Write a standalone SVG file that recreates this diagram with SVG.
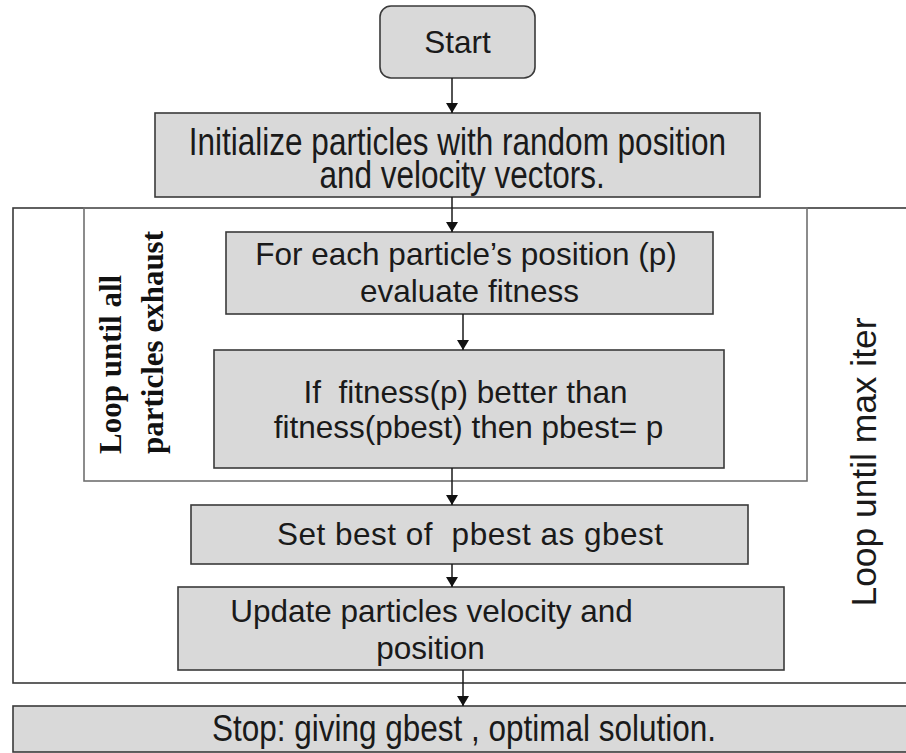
<svg xmlns="http://www.w3.org/2000/svg" width="906" height="753" viewBox="0 0 906 753">
<style>
.box{fill:#d9d9d9;stroke:#3a3a3a;stroke-width:1.6}
.frame{fill:none;stroke:#3a3a3a;stroke-width:1.6}
.inner{fill:none;stroke:#707070;stroke-width:1.6}
.t{font-family:"Liberation Sans",Arial,sans-serif;font-size:31.5px;fill:#1a1a1a;text-anchor:middle;white-space:pre}
.lbl{font-family:"Liberation Sans",Arial,sans-serif;font-size:35px;fill:#1a1a1a;text-anchor:middle}
.lbl2{font-family:"Liberation Serif","Times New Roman",serif;font-size:31px;font-weight:bold;fill:#111}
.c{stroke:#1a1a1a;stroke-width:1.5;fill:none;marker-end:url(#ah)}
</style>
<defs>
<marker id="ah" viewBox="0 0 10 12" refX="10" refY="6" markerWidth="10" markerHeight="12" markerUnits="userSpaceOnUse" orient="auto">
<path d="M0,0 L10,6 L0,12 Z" fill="#111"/>
</marker>
</defs>
<rect width="906" height="753" fill="#fff"/>

<g id="loop-outer">
<rect class="frame" x="13" y="208" width="900" height="475"/>
<text class="lbl" transform="rotate(-90 876 462)" x="876" y="462" textLength="289" lengthAdjust="spacingAndGlyphs">Loop until max iter</text>
</g>
<g id="loop-inner">
<rect class="inner" x="84" y="208" width="723" height="273"/>
<text class="lbl2" transform="rotate(-90 121 454)" x="121" y="454">Loop until all</text>
<text class="lbl2" transform="rotate(-90 163 454)" x="163" y="454">particles exhaust</text>
</g>

<g id="start">
<rect class="box" x="380" y="6" width="155" height="72" rx="11" ry="11"/>
<text class="t" x="457.5" y="53">Start</text>
</g>
<g id="init">
<rect class="box" x="155" y="113" width="605" height="84"/>
<text class="t" transform="translate(457.5 155) scale(1 1.25)" x="0" y="0">Initialize particles with random position</text>
<text class="t" transform="translate(462 188) scale(1 1.25)" x="0" y="0">and velocity vectors.</text>
</g>
<g id="evaluate">
<rect class="box" x="226" y="232" width="487" height="82"/>
<text class="t" x="466" y="265">For each particle’s position (p)</text>
<text class="t" x="469.5" y="302">evaluate fitness</text>
</g>
<g id="compare">
<rect class="box" x="214" y="350" width="510" height="118"/>
<text class="t" x="465.5" y="403">If  fitness(p) better than</text>
<text class="t" x="468.5" y="438">fitness(pbest) then pbest= p</text>
</g>
<g id="gbest">
<rect class="box" x="191" y="505" width="557" height="59"/>
<text class="t" x="470" y="545" textLength="386" lengthAdjust="spacing">Set best of  pbest as gbest</text>
</g>
<g id="update">
<rect class="box" x="178" y="587" width="606" height="83"/>
<text class="t" x="431.5" y="622">Update particles velocity and</text>
<text class="t" x="430.5" y="659">position</text>
</g>
<g id="stop">
<rect class="box" x="13" y="706" width="900" height="46"/>
<text class="t" transform="translate(464 741) scale(1 1.2)" x="0" y="0">Stop: giving gbest , optimal solution.</text>
</g>

<g id="connectors">
<path class="c" d="M452,78 V113"/>
<path class="c" d="M452,197 V232"/>
<path class="c" d="M463,314 V350"/>
<path class="c" d="M452,468 V505"/>
<path class="c" d="M452,564 V587"/>
<path class="c" d="M463,670 V706"/>
</g>
</svg>
